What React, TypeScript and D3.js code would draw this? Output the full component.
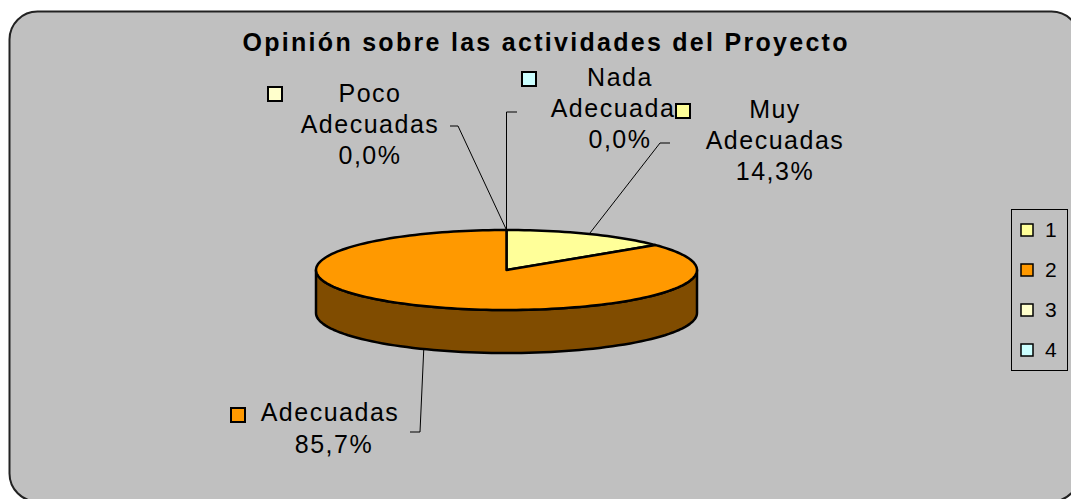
import React, { useEffect, useRef } from 'react';
import * as d3 from 'd3';

// series order as in the legend (1..4)
const categories = ['Muy Adecuadas', 'Adecuadas', 'Poco Adecuadas', 'Nada Adecuadas'];
const values = [14.3, 85.7, 0.0, 0.0];
const legendLabels = ['1', '2', '3', '4'];
const colors = ['#FFFF99', '#FF9900', '#FFFFCC', '#CCFFFF'];
const sideColors = ['#80804C', '#804C00', '#808066', '#668080'];

const fmt = (v: number) => v.toFixed(1).replace('.', ',') + '%';

const App = () => {
    const svgRef = useRef<SVGSVGElement>(null);

    useEffect(() => {
        const svg = d3.select(svgRef.current);
        svg.selectAll('*').remove();

        const width = 1071;
        const height = 499;
        svg.attr('width', width).attr('height', height);

        // chart area
        svg.append('rect')
            .attr('width', width).attr('height', height).attr('fill', '#fff');
        svg.append('rect')
            .attr('x', 9.5).attr('y', 11.5)
            .attr('width', 1070).attr('height', 490)
            .attr('rx', 28).attr('ry', 28)
            .attr('fill', '#C0C0C0')
            .attr('stroke', '#222').attr('stroke-width', 2);

        svg.append('text')
            .attr('x', 545).attr('y', 51)
            .attr('text-anchor', 'middle')
            .attr('font-family', 'Arial, "Liberation Sans", sans-serif')
            .attr('font-weight', 'bold')
            .attr('font-size', 25)
            .attr('textLength', 605)
            .attr('lengthAdjust', 'spacing')
            .text('Opinión sobre las actividades del Proyecto');

        // 3D pie geometry
        const cx = 506.5, cy = 270, rx = 190.5, ry = 40, depth = 43;
        const pt = (a: number, dy = 0): [number, number] => [cx + rx * Math.sin(a), cy - ry * Math.cos(a) + dy];

        const arcs = d3.pie<number>().sort(null).value((d) => d)(values);

        const g = svg.append('g');

        // side walls (front half only: angles between PI/2 and 3PI/2)
        arcs.forEach((a, i) => {
            const s = Math.max(a.startAngle, Math.PI / 2);
            const e = Math.min(a.endAngle, Math.PI * 1.5);
            if (e <= s) return;
            const steps = 80;
            const top = d3.range(steps + 1).map((k) => pt(s + ((e - s) * k) / steps));
            const bottom = top.map(([x, y]) => [x, y + depth] as [number, number]).reverse();
            g.append('path')
                .attr('d', d3.line()([...top, ...bottom]) + 'Z')
                .attr('fill', sideColors[i])
                .attr('stroke', '#000').attr('stroke-width', 2.5)
                .attr('stroke-linejoin', 'round');
        });

        // top faces
        arcs.forEach((a, i) => {
            if (a.endAngle - a.startAngle <= 0) return;
            const steps = Math.max(2, Math.ceil(((a.endAngle - a.startAngle) / (2 * Math.PI)) * 200));
            const pts = d3.range(steps + 1).map((k) => pt(a.startAngle + ((a.endAngle - a.startAngle) * k) / steps));
            g.append('path')
                .attr('d', d3.line()([[cx, cy], ...pts]) + 'Z')
                .attr('fill', colors[i])
                .attr('stroke', '#000').attr('stroke-width', 2.5)
                .attr('stroke-linejoin', 'round');
        });

        // data labels with leader lines
        const mid = (a: d3.PieArcDatum<number>) => (a.startAngle + a.endAngle) / 2;
        const labels = [
            { i: 2, lines: ['Poco', 'Adecuadas', fmt(values[2])], x: 369, y: 102, mk: [268, 87], lead: [[450, 126], [458, 126]] },
            { i: 3, lines: ['Nada', 'Adecuadas', fmt(values[3])], x: 619, y: 86, mk: [522, 72], lead: [[517, 112], [506.5, 112]] },
            { i: 0, lines: ['Muy', 'Adecuadas', fmt(values[0])], x: 774, y: 118, mk: [676, 104], lead: [[670, 143], [660, 143]] },
        ];

        const textFont = (sel: d3.Selection<SVGTextElement, unknown, null, undefined>) =>
            sel.attr('font-family', 'Arial, "Liberation Sans", sans-serif')
                .attr('font-size', 25)
                .attr('letter-spacing', 1.5)
                .attr('fill', '#000');

        const lineGen = d3.line();

        labels.forEach((l) => {
            const a = arcs[l.i];
            const m = a.endAngle - a.startAngle === 0 ? a.startAngle : mid(a);
            const end = pt(m === 2 * Math.PI ? 0 : m);
            svg.append('path')
                .attr('d', lineGen([...(l.lead as [number, number][]), end]))
                .attr('fill', 'none').attr('stroke', '#000').attr('stroke-width', 1);
            l.lines.forEach((t, k) => {
                svg.append('text')
                    .attr('x', l.x + 1).attr('y', l.y + k * 31)
                    .attr('text-anchor', 'middle')
                    .call(textFont)
                    .text(t);
            });
            svg.append('rect')
                .attr('x', l.mk[0]).attr('y', l.mk[1])
                .attr('width', 14).attr('height', 14)
                .attr('fill', colors[l.i])
                .attr('stroke', '#000').attr('stroke-width', 2);
        });

        // "Adecuadas" label below the pie
        {
            const a = arcs[1];
            const end = pt(mid(a), depth);
            svg.append('path')
                .attr('d', lineGen([[410, 432], [420, 432], end]))
                .attr('fill', 'none').attr('stroke', '#000').attr('stroke-width', 1);
            svg.append('text')
                .attr('x', 330).attr('y', 421)
                .attr('text-anchor', 'middle')
                .call(textFont)
                .text(categories[1]);
            svg.append('text')
                .attr('x', 334).attr('y', 453)
                .attr('text-anchor', 'middle')
                .call(textFont)
                .text(fmt(values[1]));
            svg.append('rect')
                .attr('x', 231).attr('y', 408)
                .attr('width', 14).attr('height', 14)
                .attr('fill', colors[1])
                .attr('stroke', '#000').attr('stroke-width', 2);
        }

        // legend
        const legend = svg.append('g');
        legend.append('rect')
            .attr('x', 1011.5).attr('y', 209.5)
            .attr('width', 56).attr('height', 161)
            .attr('fill', '#C0C0C0')
            .attr('stroke', '#000').attr('stroke-width', 1);
        const ly = d3.scalePoint<string>().domain(legendLabels).range([230, 350]);
        legendLabels.forEach((lab, i) => {
            legend.append('rect')
                .attr('x', 1021).attr('y', (ly(lab) as number) - 6)
                .attr('width', 12).attr('height', 12)
                .attr('fill', colors[i])
                .attr('stroke', '#000').attr('stroke-width', 1.5);
            legend.append('text')
                .attr('x', 1045).attr('y', (ly(lab) as number) + 7)
                .attr('font-family', 'Arial, "Liberation Sans", sans-serif')
                .attr('font-size', 21)
                .text(lab);
        });
    }, []);

    return (
        <svg ref={svgRef} style={{ position: 'absolute', left: 0, top: 0, display: 'block' }}></svg>
    );
};

export default App;
